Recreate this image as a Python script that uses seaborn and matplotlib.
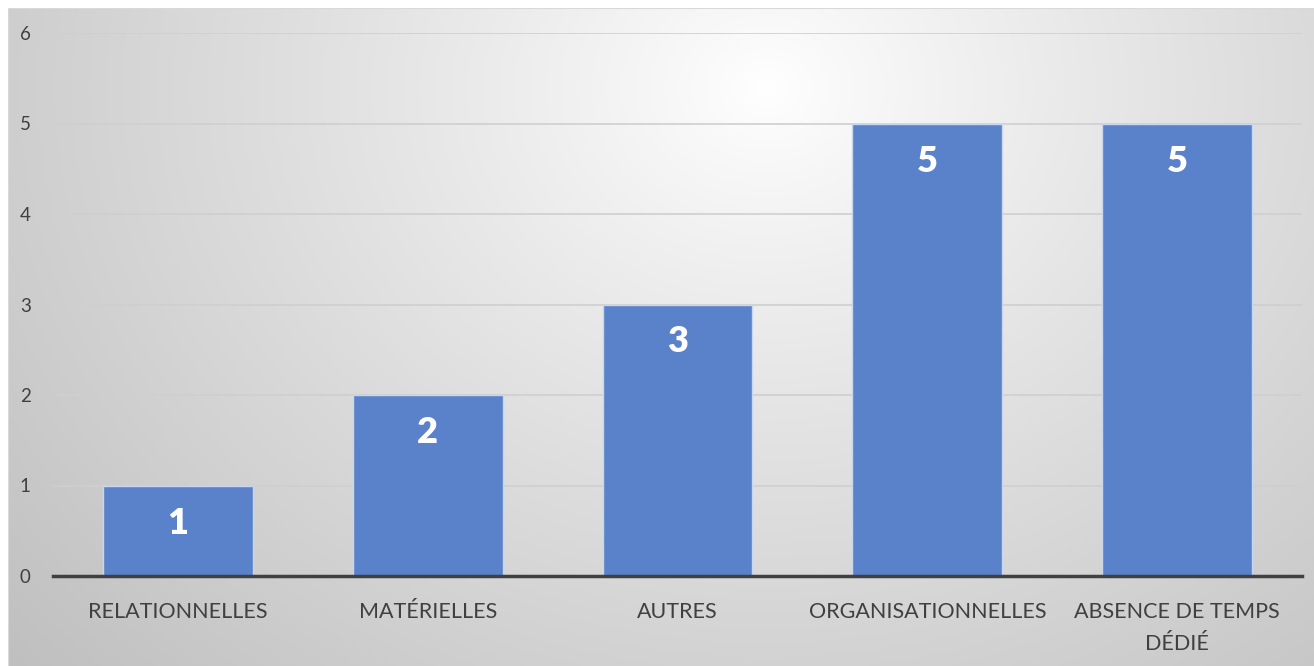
import numpy as np
import pandas as pd
import matplotlib
matplotlib.use("Agg")
import matplotlib.pyplot as plt
import seaborn as sns

categories = ["RELATIONNELLES", "MATÉRIELLES", "AUTRES", "ORGANISATIONNELLES", "ABSENCE DE TEMPS\nDÉDIÉ"]
values = [1, 2, 3, 5, 5]
yticks = [0, 1, 2, 3, 4, 5, 6]

df = pd.DataFrame({"cat": categories, "val": values})

sns.set_theme(style="white")
plt.rcParams["font.family"] = ["Lato", "DejaVu Sans"]

W, H = 1314, 666
fig = plt.figure(figsize=(W / 100, H / 100), dpi=100)
fig.patch.set_facecolor("white")

# radial gradient background
bg = fig.add_axes([8 / W, 0, 1 - 8 / W, 1 - 8 / H], zorder=0)
ny, nx = 300, 600
yy, xx = np.mgrid[0:ny, 0:nx]
cx, cy = nx * 0.58, ny * 0.12
d = np.sqrt(((xx - cx) / nx) ** 2 + ((yy - cy) / ny * 0.6) ** 2)
d = d / d.max()
g = 1.0 - 0.25 * np.clip(d, 0, 1) ** 0.9
img = np.dstack([g, g, g])
bg.imshow(img, aspect="auto", extent=[0, 1, 0, 1], interpolation="bilinear")
bg.set_axis_off()
bg.add_line(plt.Line2D([0, 1], [1, 1], transform=bg.transAxes, color="#d9d9d9", lw=1.5))
bg.add_line(plt.Line2D([0, 0], [0, 1], transform=bg.transAxes, color="#d9d9d9", lw=1.5))

ax = fig.add_axes([53 / W, 1 - 576 / H, (1302 - 53) / W, (576 - 33) / H], zorder=1)
ax.patch.set_alpha(0)

sns.barplot(data=df, x="cat", y="val", color="#5A82CA", saturation=1, width=0.6,
            edgecolor="#c9d6ef", linewidth=1.0, ax=ax, zorder=3)

ax.set_ylim(0, 6)
ax.set_xlim(-0.5, len(categories) - 0.5)
ax.set_yticks(yticks)
ax.set_yticklabels([str(t) for t in yticks], fontsize=13.5, color="#404040")
ax.yaxis.grid(True, color="#cfcfcf", linewidth=1.2, zorder=0)
ax.set_axisbelow(True)
ax.tick_params(axis="y", length=0, pad=16)
ax.tick_params(axis="x", length=0, pad=19, labelsize=15.5, labelcolor="#404040")
ax.set_xticks(range(len(categories)))
ax.set_xticklabels(categories, linespacing=1.7)
for s in ["left", "right", "top"]:
    ax.spines[s].set_visible(False)
ax.spines["bottom"].set_color("#404040")
ax.spines["bottom"].set_linewidth(2.5)
ax.spines["bottom"].set_zorder(5)
ax.set_xlabel("")
ax.set_ylabel("")

for i, v in enumerate(values):
    ax.annotate(str(v), xy=(i, v), xytext=(0, -27), textcoords="offset points",
                ha="center", va="center", color="white", fontsize=26,
                fontweight="heavy", zorder=6)

fig.savefig("out.png", dpi=100)
